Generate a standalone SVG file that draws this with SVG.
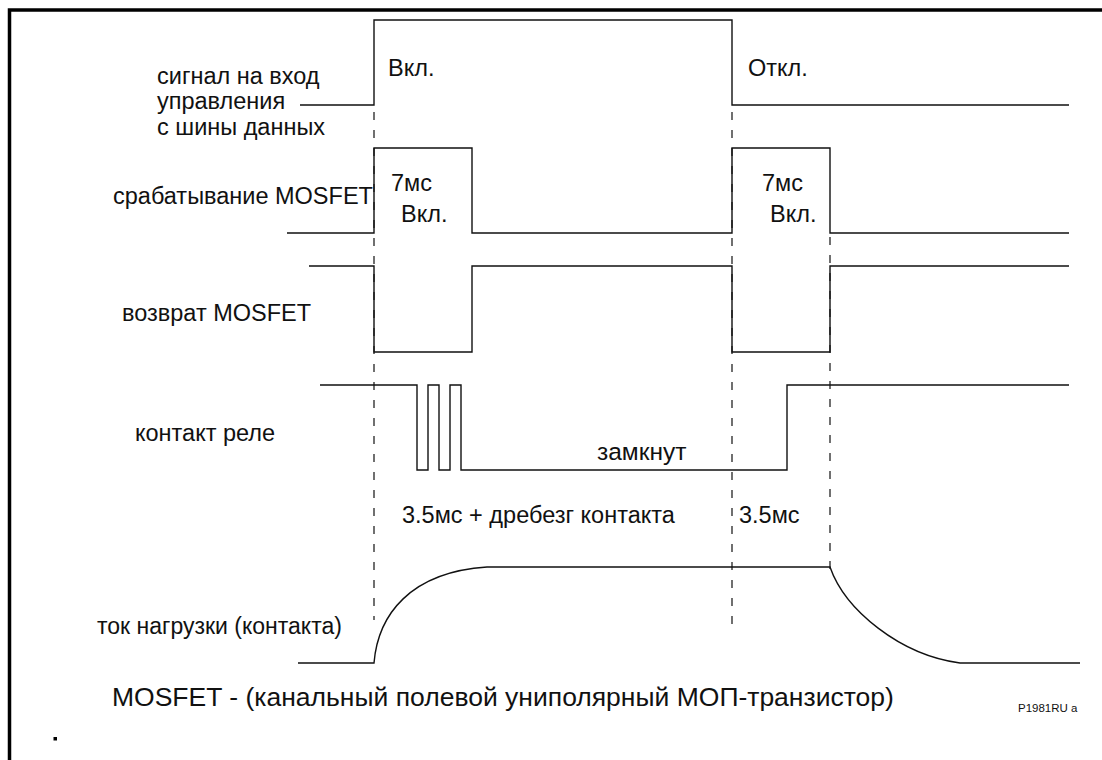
<svg xmlns="http://www.w3.org/2000/svg" width="1102" height="760" viewBox="0 0 1102 760">
<style>
.t{font-family:"Liberation Sans",Arial,sans-serif;font-size:23.5px;fill:#111}
.f{font-family:"Liberation Sans",Arial,sans-serif;font-size:26.5px;fill:#111}
.s{fill:none;stroke:#111;stroke-width:1.4}
.d{fill:none;stroke:#111;stroke-width:1.2;stroke-dasharray:8 10}
</style>
<rect width="1102" height="760" fill="#fff"/>
<g id="frame"><path d="M9.5,760 V10 H1102" fill="none" stroke="#000" stroke-width="3.5"/></g>
<g id="connectors">
<path class="d" d="M374,112 V620"/>
<path class="d" d="M732,112 V632"/>
<path class="d" d="M830,237 V577"/>
</g>
<g id="control-signal">
<path class="s" d="M300,105 H374 V20 H732 V105 H1069"/>
<text class="t" x="157" y="84">сигнал на вход</text>
<text class="t" x="157" y="109">управления</text>
<text class="t" x="157" y="135">с шины данных</text>
<text class="t" x="388" y="76">Вкл.</text>
<text class="t" x="748" y="76">Откл.</text>
</g>
<g id="mosfet-on">
<path class="s" d="M287,233 H374 V148 H472 V233 H732 V148 H830 V233 H1069"/>
<text class="t" x="113" y="204">срабатывание MOSFET</text>
<text class="t" x="391" y="191">7мс</text>
<text class="t" x="401" y="222">Вкл.</text>
<text class="t" x="762" y="191">7мс</text>
<text class="t" x="770" y="222">Вкл.</text>
</g>
<g id="mosfet-reset">
<path class="s" d="M309,266 H374 V352 H472 V266 H732 V352 H830 V266 H1069"/>
<text class="t" x="122" y="321">возврат MOSFET</text>
</g>
<g id="relay-contact">
<path class="s" d="M320,385 H417 V470 H428 V385 H439 V470 H450 V385 H461 V470 H787 V385 H1069"/>
<text class="t" x="135" y="441">контакт реле</text>
<text class="t" x="597" y="460" style="font-size:24.5px">замкнут</text>
<text class="t" x="402" y="523">3.5мс + дребезг контакта</text>
<text class="t" x="739" y="523">3.5мс</text>
</g>
<g id="load-current">
<path class="s" d="M298,663 H374 C378,615 410,572 487,567 H830 C845,610 900,655 960,663 H1080"/>
<text class="t" x="97" y="634" style="font-size:23px">ток нагрузки (контакта)</text>
</g>
<g id="footer">
<text class="f" x="112" y="706">MOSFET - (канальный полевой униполярный МОП-транзистор)</text>
<text x="1018" y="712" style="font-family:'Liberation Sans',Arial,sans-serif;font-size:11.5px;fill:#111">P1981RU a</text>
<rect x="53.5" y="737" width="3.5" height="3.5" fill="#000"/>
</g>
</svg>
